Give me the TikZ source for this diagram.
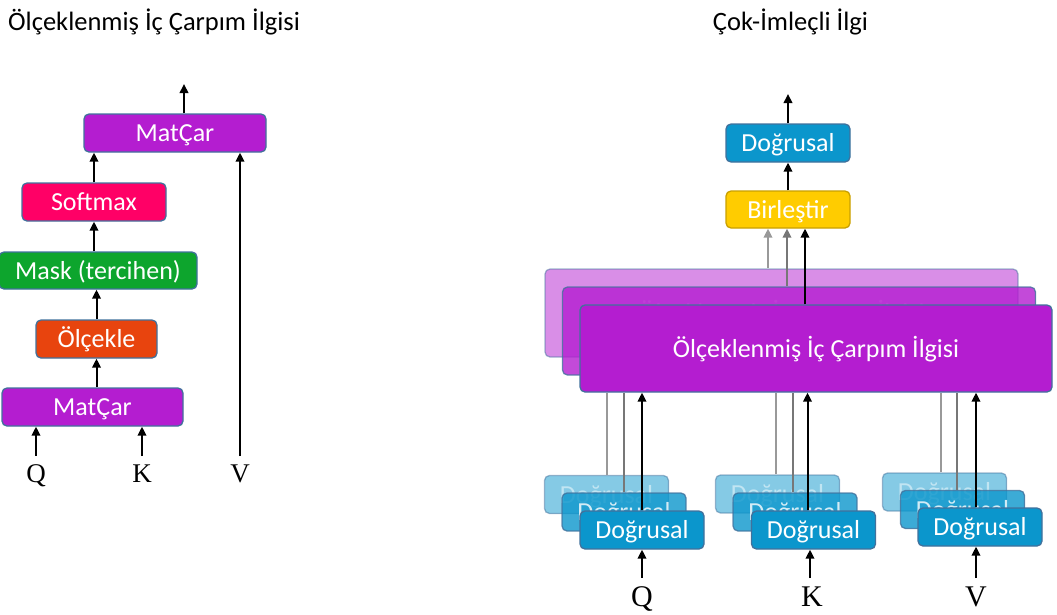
\documentclass[tikz,border=0pt]{standalone}
\usepackage{fontspec}
\setmainfont{Carlito}
\newfontfamily\qkvfont{Liberation Serif}
\usetikzlibrary{arrows.meta}

\definecolor{edge}{HTML}{41719C}
\definecolor{purp}{HTML}{B41DD0}
\definecolor{pinkc}{HTML}{FF0066}
\definecolor{grn}{HTML}{0DA52D}
\definecolor{orng}{HTML}{E8440E}
\definecolor{lin}{HTML}{0B96CC}
\definecolor{gold}{HTML}{FFCC00}
\definecolor{golde}{HTML}{C9A000}
\definecolor{grayA}{HTML}{999999}
\definecolor{grayB}{HTML}{777777}

\tikzset{
  box/.style={draw=edge, line width=1.3pt, rounded corners=5pt, text=white,
    inner sep=0pt, text height=20pt, text depth=3pt,
    font=\fontsize{26}{30}\selectfont},
  linbox/.style={box, fill=lin, minimum width=124pt, minimum height=38pt},
  sdpabox/.style={box, fill=purp, minimum width=473pt, minimum height=88pt},
  backA/.style={opacity=0.5},
  backB/.style={opacity=0.8},
  title/.style={font=\fontsize{26.5}{30}\selectfont, inner sep=0pt, anchor=base},
  lbl/.style={font=\qkvfont\fontsize{27}{30}\selectfont, inner sep=0pt, anchor=base},
  lblR/.style={font=\qkvfont\fontsize{30}{32}\selectfont, inner sep=0pt, anchor=base},
  arr/.style={line width=2pt, -{Triangle[length=9pt,width=8.5pt]}},
  garrA/.style={arr, draw=grayA, fill=grayA},
  garrB/.style={arr, draw=grayB, fill=grayB},
  glineA/.style={line width=2pt, draw=grayA},
  glineB/.style={line width=2pt, draw=grayB},
}

\begin{document}
\begin{tikzpicture}[x=1pt, y=-1pt]
\useasboundingbox (0,0) rectangle (1057,614);

% ---------- titles ----------
\node[title, anchor=base west] (t1) at (8,30) {Ölçeklenmiş İç Çarpım İlgisi};
\node[title] (t2) at (790.5,30) {Çok-İmleçli İlgi};

% ---------- scaled dot-product attention ----------
\node[box, fill=purp,  minimum width=182pt, minimum height=38pt] (mc2)  at (175,133)   {MatÇar};
\node[box, fill=pinkc, minimum width=144pt, minimum height=38pt] (soft) at (94,202)    {Softmax};
\node[box, fill=grn,   minimum width=198pt, minimum height=37pt] (mask) at (98,270.5)  {Mask (tercihen)};
\node[box, fill=orng,  minimum width=121pt, minimum height=38pt] (olc)  at (96.5,339)  {Ölçekle};
\node[box, fill=purp,  minimum width=181pt, minimum height=38pt] (mc1)  at (92.5,407)  {MatÇar};

\node[lbl] (q1) at (36,482)  {Q};
\node[lbl] (k1) at (142,482) {K};
\node[lbl] (v1) at (240,482) {V};
\coordinate (outL) at (184,84);

\draw[arr] ([yshift=8pt]q1.north) -- (q1.north |- mc1.south);
\draw[arr] ([yshift=8pt]k1.north) -- (k1.north |- mc1.south);
\draw[arr] ([yshift=8pt]v1.north) -- (v1.north |- mc2.south);
\draw[arr] (olc.south |- mc1.north) -- (olc.south);
\draw[arr] (olc.north) -- (olc.north |- mask.south);
\draw[arr] (soft.south |- mask.north) -- (soft.south);
\draw[arr] (soft.north) -- (soft.north |- mc2.south);
\draw[arr] (outL |- mc2.north) -- (outL);

% ---------- multi-head attention ----------
\node[box, fill=lin, minimum width=124pt, minimum height=38pt] (linout) at (788,143) {Doğrusal};
\node[box, fill=gold, draw=golde, minimum width=124pt, minimum height=37pt] (birl) at (788,209.5) {Birleştir};
\coordinate (outR) at (788,94);

% stacked attention heads
\node[sdpabox, backA] (sA) at (781.5,313)  {Ölçeklenmiş İç Çarpım İlgisi};
\node[sdpabox, backB] (sB) at (799,331)    {Ölçeklenmiş İç Çarpım İlgisi};
\node[sdpabox, minimum width=472pt, minimum height=87pt] (sC) at (816,348.5) {Ölçeklenmiş İç Çarpım İlgisi};

% stacked linear projections for Q, K, V
\node[linbox, backA] (qA) at (606.5,494.5) {Doğrusal};
\node[linbox, backB] (qB) at (624,512)     {Doğrusal};
\node[linbox]        (qC) at (642,530)     {Doğrusal};

\node[linbox, backA] (kA) at (777.5,494)   {Doğrusal};
\node[linbox, backB] (kB) at (795,512)     {Doğrusal};
\node[linbox]        (kC) at (813.5,530)   {Doğrusal};

\node[linbox, backA] (vA) at (944.5,492)   {Doğrusal};
\node[linbox, backB] (vB) at (962.5,509.5) {Doğrusal};
\node[linbox]        (vC) at (980,527)     {Doğrusal};

\node[lblR] (q2) at (642,606) {Q};
\node[lblR] (k2) at (812,606) {K};
\node[lblR] (v2) at (976,606) {V};

% inputs
\draw[arr] ([yshift=8pt]q2.north) -- (q2.north |- qC.south);
\draw[arr] ([xshift=-2pt,yshift=8pt]k2.north) -- ([xshift=-2pt]k2.north |- kC.south);
\draw[arr] ([yshift=8pt]v2.north) -- (v2.north |- vC.south);

% projections into the heads
\draw[glineA] (qA.north) -- (qA.north |- sC.south);
\draw[glineB] (qB.north) -- (qB.north |- sC.south);
\draw[arr]    (qC.north) -- (qC.north |- sC.south);

\draw[glineA] ([xshift=-1.5pt]kA.north) -- ([xshift=-1.5pt]kA.north |- sC.south);
\draw[glineB] ([xshift=-2pt]kB.north) -- ([xshift=-2pt]kB.north |- sC.south);
\draw[arr]    ([xshift=-6pt]kC.north) -- ([xshift=-6pt]kC.north |- sC.south);

\draw[glineA] ([xshift=-3.5pt]vA.north) -- ([xshift=-3.5pt]vA.north |- sC.south);
\draw[glineB] ([xshift=-5.5pt]vB.north) -- ([xshift=-5.5pt]vB.north |- sC.south);
\draw[arr]    ([xshift=-4pt]vC.north) -- ([xshift=-4pt]vC.north |- sC.south);

% heads into concatenation
\draw[garrA] ([xshift=-20pt]birl.south |- sA.north) -- ([xshift=-20pt]birl.south);
\draw[garrB] ([xshift=-1pt]birl.south |- sB.north) -- ([xshift=-1pt]birl.south);
\draw[arr]   ([xshift=17pt]birl.south |- sC.north) -- ([xshift=17pt]birl.south);

\draw[arr] (birl.north) -- (linout.south);
\draw[arr] (linout.north) -- (outR);
\end{tikzpicture}
\end{document}
